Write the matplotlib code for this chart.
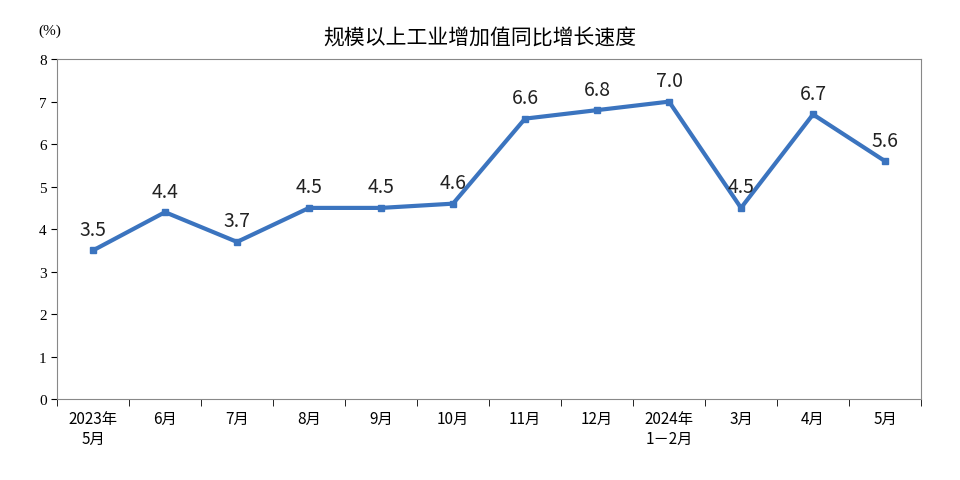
import matplotlib
matplotlib.use('Agg')
import matplotlib.pyplot as plt
import numpy as np

plt.rcParams['font.family'] = ['Noto Sans CJK SC', 'DejaVu Sans']

categories = ['2023年\n5月', '6月', '7月', '8月', '9月', '10月', '11月', '12月', '2024年\n1－2月', '3月', '4月', '5月']
values = [3.5, 4.4, 3.7, 4.5, 4.5, 4.6, 6.6, 6.8, 7.0, 4.5, 6.7, 5.6]
labels = ['3.5', '4.4', '3.7', '4.5', '4.5', '4.6', '6.6', '6.8', '7.0', '4.5', '6.7', '5.6']

fig = plt.figure(figsize=(9.6, 4.81), dpi=100)
ax = fig.add_axes([0.0594, 0.168, 0.9, 0.707])
x = np.arange(len(values))
color = '#3b74bf'
ax.plot(x, values, color=color, lw=3, marker='s', ms=5)
for xi, v, t in zip(x, values, labels):
    ax.text(xi, v + 0.25, t, ha='center', va='bottom', fontsize=14, color='#222222')
ax.set_xlim(-0.5, 11.5)
ax.set_ylim(0, 8)
ax.set_yticks(range(9))
ax.set_yticklabels([str(i) for i in range(9)], fontsize=11, family='Liberation Serif')
ax.set_xticks(x)
ax.set_xticklabels(categories, fontsize=11)
ax.set_xticks(np.arange(-0.5, 12, 1), minor=True)
ax.tick_params(axis='x', which='major', length=0, pad=8)
ax.tick_params(axis='x', which='minor', length=5, direction='out')
ax.tick_params(axis='y', length=4, direction='out')
for s in ax.spines.values():
    s.set_color('#888888')
    s.set_linewidth(0.8)
fig.text(0.5, 0.92, '规模以上工业增加值同比增长速度', ha='center', va='center', fontsize=15)
fig.text(0.04, 0.935, '(%)', ha='left', va='center', fontsize=11, family='Liberation Serif')
fig.savefig('out.png', dpi=100, facecolor='white')
